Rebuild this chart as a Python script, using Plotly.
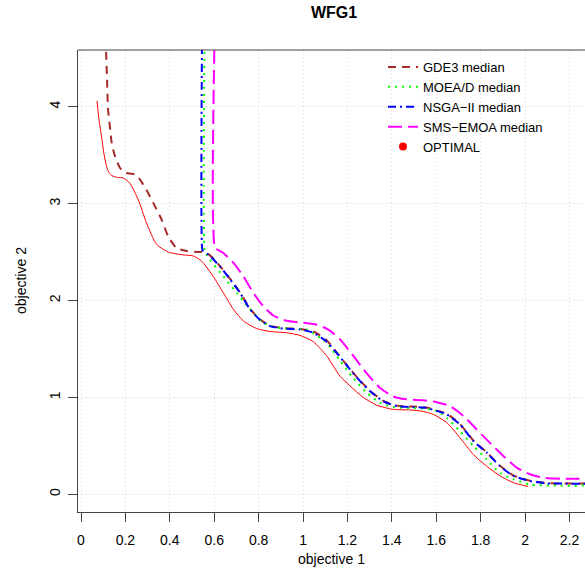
import plotly.graph_objects as go

# ---------------- data ----------------
opt_x = [0.072, 0.082, 0.092, 0.103, 0.115, 0.126, 0.138, 0.164, 0.190, 0.220,
         0.258, 0.295, 0.340, 0.393, 0.460, 0.505, 0.536, 0.550, 0.595, 0.641,
         0.686, 0.731, 0.791, 0.851, 0.926, 0.986, 1.046, 1.106, 1.166, 1.211,
         1.271, 1.331, 1.406, 1.481, 1.527, 1.586, 1.647, 1.707, 1.767, 1.827,
         1.887, 1.947, 2.014]
opt_y = [4.06, 3.85, 3.70, 3.52, 3.385, 3.32, 3.29, 3.27, 3.265, 3.21,
         3.04, 2.80, 2.58, 2.50, 2.47, 2.46, 2.42, 2.39, 2.25, 2.08,
         1.91, 1.79, 1.71, 1.68, 1.667, 1.64, 1.575, 1.43, 1.22, 1.12,
         1.00, 0.92, 0.876, 0.87, 0.86, 0.825, 0.74, 0.584, 0.41, 0.29,
         0.19, 0.12, 0.08]

gde3_x = [0.112, 0.113, 0.117, 0.122, 0.130, 0.138, 0.153, 0.175, 0.198, 0.243,
          0.265, 0.295, 0.325, 0.363, 0.393, 0.431, 0.476, 0.536, 0.546, 0.581,
          0.626, 0.671, 0.716, 0.761, 0.806, 0.851, 0.911, 0.986, 1.046, 1.104,
          1.151, 1.211, 1.256, 1.301, 1.361, 1.422, 1.496, 1.557, 1.602, 1.647,
          1.707, 1.767, 1.827, 1.887, 1.947, 2.022, 2.097, 2.184, 2.35]
gde3_y = [5.0, 4.59, 4.30, 3.97, 3.80, 3.63, 3.49, 3.37, 3.32, 3.30,
          3.25, 3.14, 3.01, 2.835, 2.66, 2.54, 2.51, 2.50, 2.505, 2.465,
          2.355, 2.225, 2.085, 1.915, 1.805, 1.74, 1.715, 1.705, 1.68, 1.595,
          1.465, 1.295, 1.175, 1.07, 0.965, 0.915, 0.905, 0.895, 0.865, 0.83,
          0.725, 0.555, 0.435, 0.295, 0.195, 0.14, 0.115, 0.112, 0.112]

moead_x = [0.558, 0.558, 0.564, 0.581, 0.641, 0.701, 0.761, 0.821, 0.881, 0.941,
           1.016, 1.046, 1.104, 1.166, 1.226, 1.286, 1.346, 1.406, 1.481, 1.557,
           1.602, 1.647, 1.707, 1.767, 1.827, 1.887, 1.947, 2.022, 2.127, 2.35]
moead_y = [5.0, 2.50, 2.48, 2.42, 2.25, 2.08, 1.91, 1.77, 1.72, 1.71,
           1.70, 1.66, 1.57, 1.38, 1.20, 1.05, 0.945, 0.90, 0.89, 0.88,
           0.86, 0.79, 0.65, 0.50, 0.36, 0.22, 0.155, 0.10, 0.09, 0.09]

nsga_x = [0.546, 0.546, 0.550, 0.581, 0.626, 0.671, 0.716, 0.761, 0.806, 0.851,
          0.911, 0.986, 1.046, 1.104, 1.151, 1.211, 1.256, 1.301, 1.361, 1.422,
          1.496, 1.557, 1.602, 1.647, 1.707, 1.767, 1.827, 1.887, 1.947, 2.022,
          2.097, 2.184, 2.35]
nsga_y = [5.0, 2.53, 2.51, 2.46, 2.35, 2.22, 2.08, 1.91, 1.80, 1.735,
          1.71, 1.70, 1.667, 1.58, 1.46, 1.29, 1.17, 1.065, 0.96, 0.91,
          0.90, 0.89, 0.86, 0.825, 0.72, 0.55, 0.43, 0.29, 0.19, 0.137,
          0.113, 0.11, 0.11]

sms_x = [0.604, 0.604, 0.619, 0.641, 0.686, 0.731, 0.776, 0.821, 0.866, 0.926,
         1.001, 1.061, 1.114, 1.166, 1.226, 1.286, 1.346, 1.406, 1.466, 1.541,
         1.602, 1.662, 1.722, 1.782, 1.842, 1.902, 1.962, 2.022, 2.082, 2.157, 2.35]
sms_y = [5.0, 2.54, 2.52, 2.49, 2.39, 2.25, 2.08, 1.94, 1.845, 1.79,
         1.77, 1.75, 1.70, 1.60, 1.43, 1.25, 1.10, 1.01, 0.98, 0.97,
         0.95, 0.91, 0.81, 0.67, 0.53, 0.395, 0.275, 0.206, 0.17, 0.16, 0.16]

x_ticks = [0, 0.2, 0.4, 0.6, 0.8, 1, 1.2, 1.4, 1.6, 1.8, 2, 2.2]
x_tick_text = ["0", "0.2", "0.4", "0.6", "0.8", "1", "1.2", "1.4", "1.6", "1.8", "2", "2.2"]
y_ticks = [0, 1, 2, 3, 4]
y_tick_text = ["0", "1", "2", "3", "4"]

# ---------------- figure ----------------
FONT = "Liberation Sans, Arial, Helvetica, sans-serif"
fig = go.Figure()

fig.add_trace(go.Scatter(x=opt_x, y=opt_y, mode="lines", showlegend=False,
                         line=dict(color="#FF0000", width=1, shape="spline", smoothing=0.6)))
fig.add_trace(go.Scatter(x=gde3_x, y=gde3_y, mode="lines", name="GDE3 median",
                         line=dict(color="#A52A2A", width=2, dash="8px,6px",
                                   shape="spline", smoothing=0.6)))
fig.add_trace(go.Scatter(x=moead_x, y=moead_y, mode="lines", name="MOEA/D median",
                         line=dict(color="#00FF00", width=2, dash="2px,5px",
                                   shape="spline", smoothing=0.6)))
fig.add_trace(go.Scatter(x=nsga_x, y=nsga_y, mode="lines", name="NSGA\u2212II median",
                         line=dict(color="#0000FF", width=2, dash="8px,4px,2px,4px",
                                   shape="spline", smoothing=0.6)))
fig.add_trace(go.Scatter(x=sms_x, y=sms_y, mode="lines", name="SMS\u2212EMOA median",
                         line=dict(color="#FF00FF", width=2, dash="14px,6px",
                                   shape="spline", smoothing=0.6)))
fig.add_trace(go.Scatter(x=[None], y=[None], mode="markers", name="OPTIMAL",
                         marker=dict(color="#FF0000", size=8)))

axis_common = dict(
    showgrid=True, gridcolor="#D6D6D6", gridwidth=1, griddash="1px,3px",
    zeroline=False, showline=True, linecolor="#444444", linewidth=1,
    ticks="outside", tickcolor="#444444", ticklen=9, tickwidth=1,
    tickfont=dict(family=FONT, size=14, color="black"),
)

fig.update_layout(
    width=585, height=569,
    margin=dict(l=78, r=0, t=50, b=57),
    paper_bgcolor="white", plot_bgcolor="white",
    font=dict(family=FONT, size=14, color="black"),
    title=dict(text="<b>WFG1</b>", x=334 / 585, xanchor="center",
               y=1 - 12.5 / 569, yanchor="middle",
               font=dict(family=FONT, size=16, color="black")),
    xaxis=dict(range=[-0.0135, 2.27], tickvals=x_ticks, ticktext=x_tick_text,
               ticklabelstandoff=6, **axis_common),
    yaxis=dict(range=[-0.183, 4.585], tickvals=y_ticks, ticktext=y_tick_text,
               tickangle=-90, ticklabelstandoff=2, **axis_common),
    legend=dict(x=(383 - 78) / 507, xanchor="left", y=1 - 2 / 462, yanchor="top",
                bgcolor="rgba(0,0,0,0)", borderwidth=0,
                font=dict(family=FONT, size=13, color="black"),
                tracegroupgap=0),
    shapes=[dict(type="line", xref="paper", yref="paper", x0=0, x1=1, y0=1, y1=1,
                 line=dict(color="#444444", width=1))],
    annotations=[
        dict(text="objective 1", xref="paper", yref="paper", x=(331 - 78) / 507, y=0,
             xanchor="center", yanchor="middle", yshift=-(559 - 512), showarrow=False,
             font=dict(family=FONT, size=14, color="black")),
        dict(text="objective 2", xref="paper", yref="paper", x=0, y=0.5,
             xanchor="center", yanchor="middle", xshift=-(78 - 21), textangle=-90,
             showarrow=False, font=dict(family=FONT, size=14, color="black")),
    ],
)

fig.write_html("out.html")
